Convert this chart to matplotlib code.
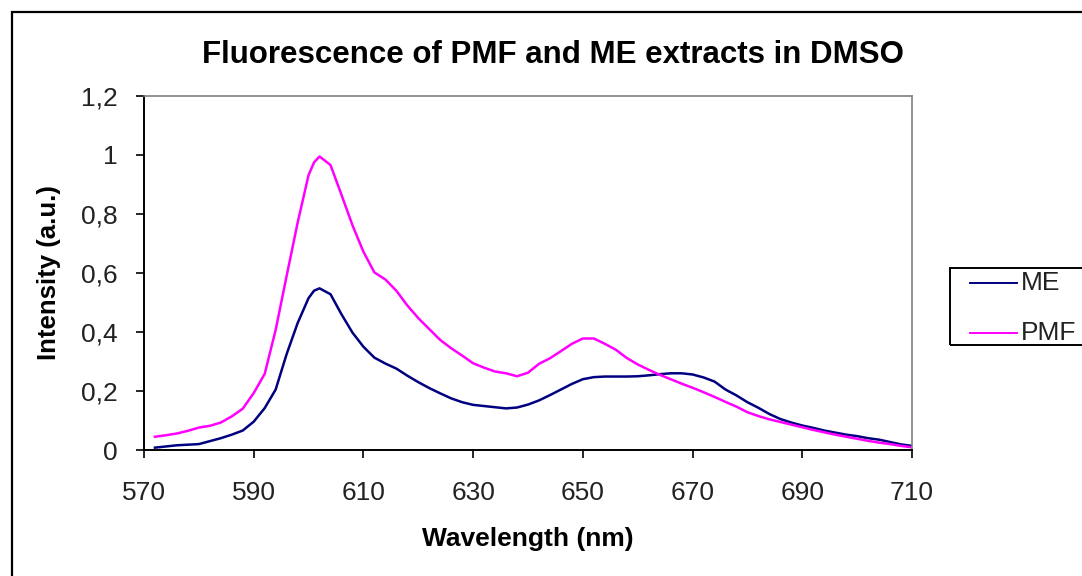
"""Fluorescence spectra of the PMF and ME extracts in DMSO (Excel-style chart)."""

import matplotlib

matplotlib.use("Agg")
import matplotlib.pyplot as plt
from matplotlib.lines import Line2D
from matplotlib.patches import Rectangle
from matplotlib.ticker import FuncFormatter

plt.rcParams["font.family"] = ["Liberation Sans", "DejaVu Sans"]

# values
wavelength = [572, 574, 576, 578, 580, 582, 584, 586, 588, 590, 592, 594, 596, 598,
              600, 601, 602, 604, 606, 608, 610, 612, 614, 616, 618, 620, 622, 624,
              626, 628, 630, 632, 634, 636, 638, 640, 642, 644, 646, 648, 650, 652,
              654, 656, 658, 660, 662, 664, 666, 668, 670, 672, 674, 676, 678, 680,
              682, 684, 686, 688, 690, 692, 694, 696, 698, 700, 702, 704, 706, 708,
              710]
pmf = [0.045, 0.050, 0.056, 0.065, 0.076, 0.082, 0.093, 0.114, 0.140, 0.193, 0.258,
       0.407, 0.590, 0.770, 0.932, 0.975, 0.995, 0.966, 0.865, 0.762, 0.672, 0.602,
       0.578, 0.540, 0.490, 0.447, 0.410, 0.373, 0.345, 0.320, 0.294, 0.279, 0.266,
       0.260, 0.250, 0.262, 0.292, 0.311, 0.335, 0.360, 0.378, 0.378, 0.360, 0.340,
       0.312, 0.290, 0.272, 0.255, 0.240, 0.225, 0.211, 0.196, 0.180, 0.163, 0.147,
       0.128, 0.115, 0.104, 0.095, 0.086, 0.077, 0.068, 0.060, 0.052, 0.045, 0.038,
       0.031, 0.025, 0.020, 0.014, 0.009]
me = [0.008, 0.012, 0.016, 0.018, 0.020, 0.030, 0.040, 0.052, 0.066, 0.096, 0.142,
      0.205, 0.325, 0.430, 0.515, 0.540, 0.548, 0.528, 0.460, 0.398, 0.350, 0.313,
      0.293, 0.276, 0.252, 0.230, 0.210, 0.192, 0.175, 0.162, 0.153, 0.149, 0.145,
      0.141, 0.144, 0.154, 0.168, 0.186, 0.205, 0.224, 0.240, 0.247, 0.249, 0.249,
      0.249, 0.250, 0.253, 0.257, 0.260, 0.260, 0.256, 0.246, 0.232, 0.205, 0.185,
      0.162, 0.143, 0.122, 0.105, 0.093, 0.083, 0.075, 0.066, 0.059, 0.052, 0.047,
      0.040, 0.035, 0.027, 0.019, 0.014]
x_ticks = [570, 590, 610, 630, 650, 670, 690, 710]
y_ticks = [0, 0.2, 0.4, 0.6, 0.8, 1.0, 1.2]

ME_COLOR = "#000080"
PMF_COLOR = "#FF00FF"

W, H = 1082, 576
fig = plt.figure(figsize=(W / 100, H / 100), dpi=100)

# outer chart border (runs off the right and bottom edges)
fig.patches.append(Rectangle((12 / W, -0.1), 1.2, 1 - 12 / H + 0.1,
                             transform=fig.transFigure, fill=False,
                             edgecolor="black", linewidth=1.6))

ax = fig.add_axes([144 / W, 1 - 450 / H, (912 - 144) / W, (450 - 96) / H])
ax.plot(wavelength, me, color=ME_COLOR, linewidth=1.8)
ax.plot(wavelength, pmf, color=PMF_COLOR, linewidth=1.8)

ax.set_xlim(570, 710)
ax.set_ylim(0, 1.2)
ax.set_xticks(x_ticks)
ax.set_yticks(y_ticks)
ax.yaxis.set_major_formatter(FuncFormatter(lambda v, _: f"{v:g}".replace(".", ",")))
ax.tick_params(axis="both", direction="out", length=6, width=1.2, color="black",
               labelsize=19, labelcolor="#222222")
ax.tick_params(axis="x", pad=16)
ax.tick_params(axis="y", pad=13)

for side in ("top", "right"):
    ax.spines[side].set_color("#808080")
    ax.spines[side].set_linewidth(1.2)
for side in ("left", "bottom"):
    ax.spines[side].set_color("black")
    ax.spines[side].set_linewidth(1.4)

ax.set_xlabel("Wavelength (nm)", fontsize=19, fontweight="bold", labelpad=16)
ax.set_ylabel("Intensity (a.u.)", fontsize=18.5, fontweight="bold", labelpad=14)
fig.text(553 / W, 1 - 55 / H, "Fluorescence of PMF and ME extracts in DMSO",
         ha="center", va="center", fontsize=22.5, fontweight="bold")

# legend box, clipped by the right edge like the original
fig.patches.append(Rectangle((950 / W, 1 - 345 / H), 0.2, (345 - 268) / H,
                             transform=fig.transFigure, fill=False,
                             edgecolor="black", linewidth=1.4))
for name, color, ypx in (("ME", ME_COLOR, 283), ("PMF", PMF_COLOR, 333)):
    fig.lines.append(Line2D([970 / W, 1017 / W], [1 - ypx / H] * 2,
                            transform=fig.transFigure, color=color, linewidth=1.4))
    fig.text(1021 / W, 1 - ypx / H, name, ha="left", va="center", fontsize=19,
             color="#222222")

fig.savefig("out.png", dpi=100)
